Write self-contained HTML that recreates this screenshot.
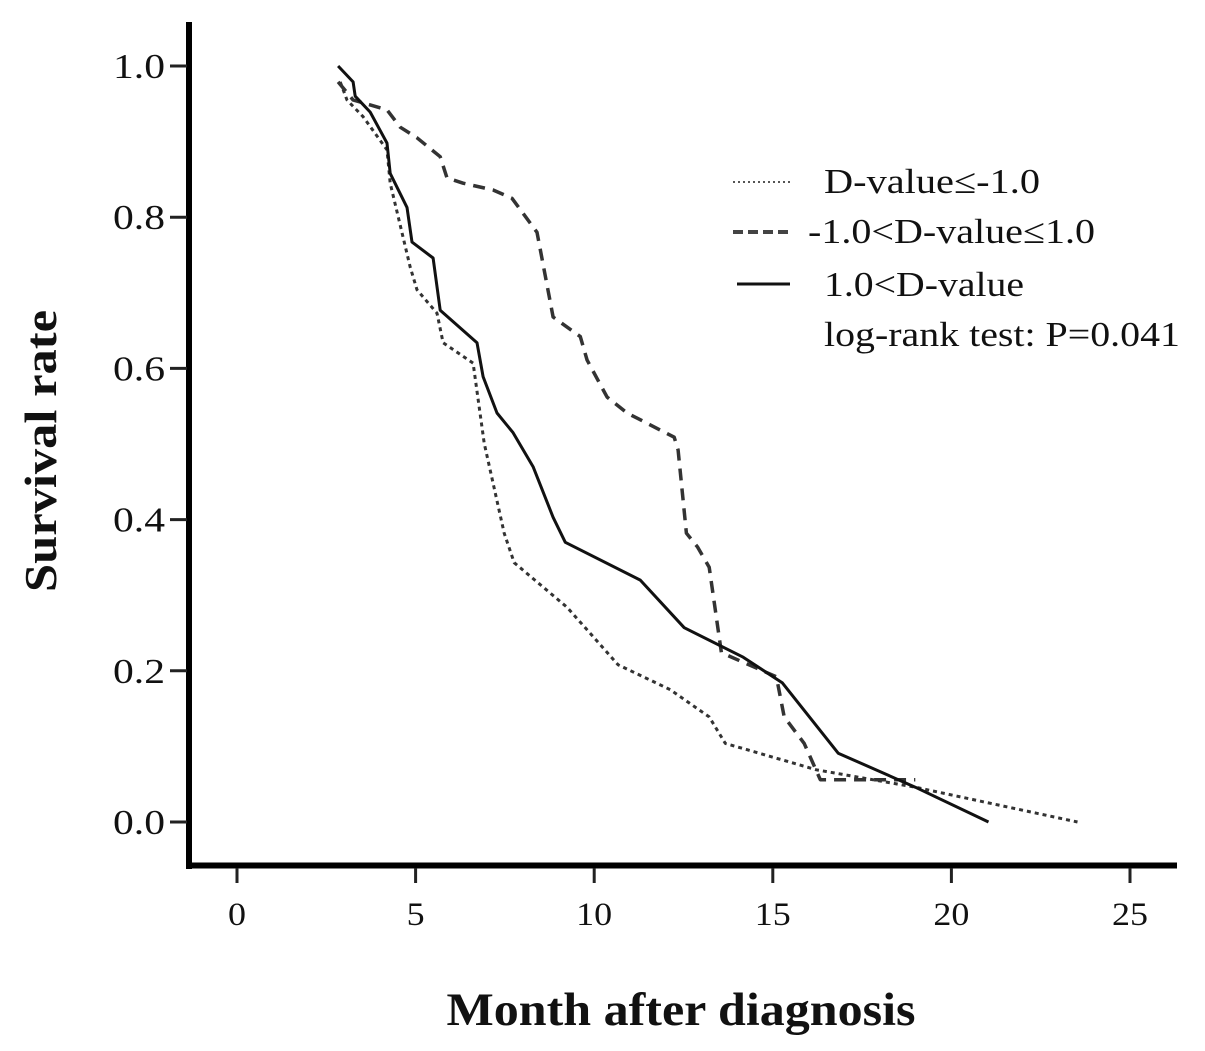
<!DOCTYPE html>
<html><head><meta charset="utf-8">
<style>
html,body{margin:0;padding:0;background:#fff;}
svg{display:block;font-family:"Liberation Serif",serif;}
</style></head>
<body>
<svg id="chart" width="1205" height="1051" viewBox="0 0 1205 1051" xmlns="http://www.w3.org/2000/svg">
<g id="axes"></g>
<g id="series"></g>
<g id="legend">
  <line x1="733" y1="182" x2="791" y2="182" stroke="#555" stroke-width="2" stroke-dasharray="2,3"/>
  <text x="824" y="193" font-size="35" fill="#111" textLength="216" lengthAdjust="spacingAndGlyphs">D-value≤-1.0</text>
  <line x1="733" y1="232" x2="790" y2="232" stroke="#444" stroke-width="4" stroke-dasharray="10,5"/>
  <text x="808" y="243" font-size="35" fill="#111" textLength="287" lengthAdjust="spacingAndGlyphs">-1.0&lt;D-value≤1.0</text>
  <line x1="737" y1="284" x2="790" y2="284" stroke="#111" stroke-width="3"/>
  <text x="824" y="296" font-size="35" fill="#111" textLength="200" lengthAdjust="spacingAndGlyphs">1.0&lt;D-value</text>
  <text x="824" y="346" font-size="35" fill="#111" textLength="356" lengthAdjust="spacingAndGlyphs">log-rank test: P=0.041</text>
</g>
<text transform="translate(56,451) rotate(-90)" text-anchor="middle" font-size="46" font-weight="bold" fill="#111" textLength="282" lengthAdjust="spacingAndGlyphs">Survival rate</text>
<text x="681" y="1025" text-anchor="middle" font-size="47" font-weight="bold" fill="#111" textLength="469" lengthAdjust="spacingAndGlyphs">Month after diagnosis</text>
</svg>
<script>
const xTicks = [0, 5, 10, 15, 20, 25];
const yTicks = [0.0, 0.2, 0.4, 0.6, 0.8, 1.0];
const yTickLabels = ["0.0", "0.2", "0.4", "0.6", "0.8", "1.0"];
const solidX = [2.83,3.25,3.31,3.73,4.20,4.29,4.76,4.90,5.49,5.69,6.72,6.89,7.28,7.73,8.29,8.85,9.19,11.29,12.52,14.17,15.27,16.83,18.99,21.04];
const solidY = [1.0,0.979,0.960,0.939,0.898,0.858,0.813,0.767,0.746,0.677,0.634,0.589,0.541,0.515,0.470,0.403,0.370,0.320,0.257,0.218,0.184,0.091,0.046,0.0];
const dashedX = [2.83,3.25,4.20,4.57,5.04,5.69,5.88,6.33,7.17,7.70,8.40,8.85,9.61,9.80,10.36,10.92,12.24,12.35,12.58,12.89,13.22,13.56,15.10,15.32,15.88,16.33,18.99];
const dashedY = [0.979,0.955,0.942,0.919,0.905,0.880,0.852,0.845,0.836,0.825,0.780,0.668,0.642,0.611,0.562,0.541,0.509,0.492,0.382,0.364,0.337,0.224,0.192,0.139,0.104,0.056,0.056];
const dottedX = [2.89,3.08,3.53,4.20,4.29,4.85,5.04,5.60,5.77,6.61,6.92,7.48,7.76,9.24,10.67,12.13,13.22,13.67,16.22,18.99,23.53];
const dottedY = [0.979,0.955,0.933,0.889,0.845,0.734,0.704,0.673,0.634,0.607,0.501,0.382,0.343,0.284,0.208,0.175,0.139,0.104,0.069,0.046,0.0];

const NS = "http://www.w3.org/2000/svg";
function sx(v){ return 237 + v * 35.72; }
function sy(v){ return 822 - v * 756; }
function mk(tag, attrs, parent){
  const e = document.createElementNS(NS, tag);
  for (const k in attrs) e.setAttribute(k, attrs[k]);
  parent.appendChild(e);
  return e;
}
const axes = document.getElementById('axes');
let el = mk('line', {x1:189, y1:22, x2:189, y2:869, stroke:'#000', 'stroke-width':6}, axes);


el = mk('line', {x1:186, y1:865.5, x2:1177, y2:865.5, stroke:'#000', 'stroke-width':6}, axes);


yTicks.forEach((v, i) => {
  const t = mk('line', {x1:170, y1:sy(v), x2:187, y2:sy(v), stroke:'#222', 'stroke-width':3}, axes);
  
  
  const l = mk('text', {x:113, y:sy(v)+12, 'font-size':35, fill:'#111', textLength:52, lengthAdjust:'spacingAndGlyphs'}, axes);
  l.textContent = yTickLabels[i];
  
  
});
xTicks.forEach(v => {
  const t = mk('line', {x1:sx(v), y1:868, x2:sx(v), y2:883, stroke:'#222', 'stroke-width':3}, axes);
  
  
  const s = String(v);
  const w = s.length * 18;
  const l = mk('text', {x:sx(v) - w/2, y:925, 'font-size':33, fill:'#111', textLength:w, lengthAdjust:'spacingAndGlyphs'}, axes);
  l.textContent = s;
  
  
});
const series = document.getElementById('series');
function draw(xs, ys, style, name){
  const pts = xs.map((x, i) => sx(x).toFixed(1) + ',' + sy(ys[i]).toFixed(1)).join(' ');
  const p = mk('polyline', Object.assign({points:pts, fill:'none', 'stroke-linejoin':'round'}, style), series);
  
  
}
draw(dottedX, dottedY, {stroke:'#333', 'stroke-width':3, 'stroke-dasharray':'4,4'}, 'series-dotted-low');
draw(dashedX, dashedY, {stroke:'#333', 'stroke-width':3.5, 'stroke-dasharray':'12,8'}, 'series-dashed-mid');
draw(solidX, solidY, {stroke:'#111', 'stroke-width':3}, 'series-solid-high');
</script>
</body></html>
